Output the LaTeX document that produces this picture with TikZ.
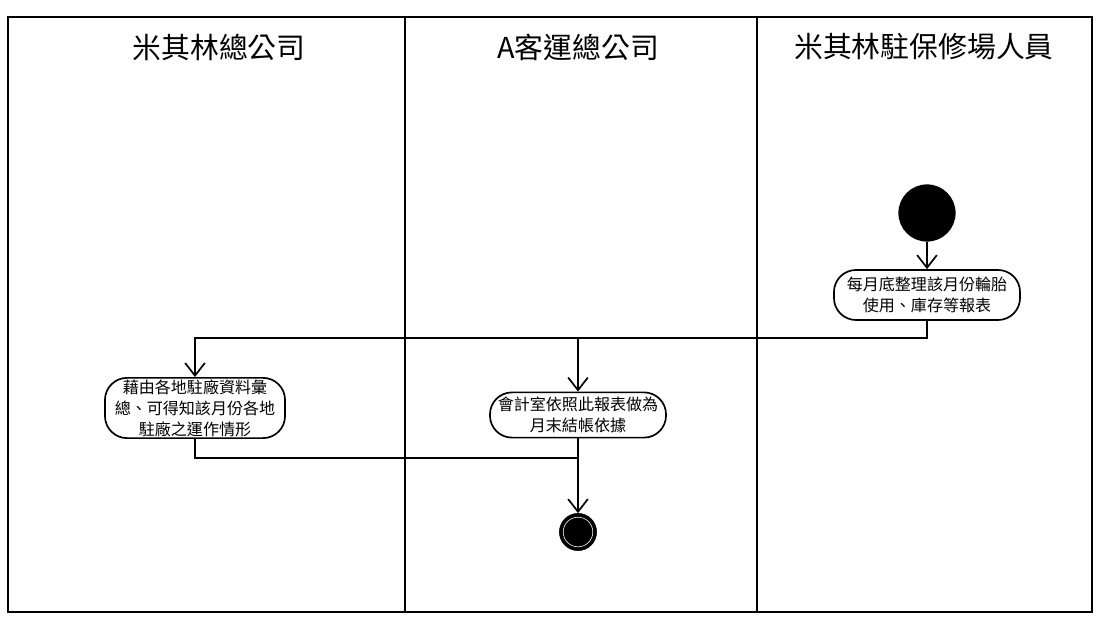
\documentclass[tikz,border=0pt]{standalone}
\usepackage{fontspec}
\setmainfont{Noto Sans CJK TC}
\usetikzlibrary{arrows.meta,positioning}

\begin{document}
\begin{tikzpicture}[x=0.025cm, y=-0.025cm,
  lanetitle/.style={font=\fontsize{20.5}{24}\selectfont},
  act/.style={draw, line width=1.2pt, rounded corners=0.55cm, minimum width=4.5cm, minimum height=1.2cm, inner sep=1pt, align=center, font=\fontsize{11.4}{15}\selectfont, fill=white},
  startnode/.style={circle, fill=black, minimum size=1.43cm, inner sep=0pt},
  endnode/.style={circle, draw, fill=black, minimum size=0.93cm, inner sep=0pt},
  arr/.style={-{Straight Barb[length=9pt, width=14pt, line width=1.2pt]}, line width=1.2pt},
  lane/.style={line width=1.3pt},
]
  \useasboundingbox (0,0) rectangle (1101,619);

  % Swimlanes
  \draw[lane] (8,17) rectangle (1092,612);
  \draw[lane] (405,17) -- (405,612);
  \draw[lane] (757,17) -- (757,612);
  \node[lanetitle] (t1) at (219,47) {米其林總公司};
  \node[lanetitle] (t2) at (578,47) {A客運總公司};
  \node[lanetitle] (t3) at (924,47) {米其林駐保修場人員};

  % Nodes
  \node[startnode] (start) at (927,213) {};
  \node[act, minimum width=4.65cm, minimum height=1.25cm] (report) at (927,295) {每月底整理該月份輪胎\\使用、庫存等報表};
  \node[act, minimum width=4.5cm, minimum height=1.5cm] (collect) at (195,408) {藉由各地駐廠資料彙\\總、可得知該月份各地\\駐廠之運作情形};
  \node[act, minimum width=4.4cm, minimum height=1.13cm] (account) at (578,415) {會計室依照此報表做為\\月末結帳依據};
  \node[endnode] (end) at (578,532) {};
  \draw[white, line width=0.4pt] (end) circle (0.37cm);

  \coordinate (fork) at (927,338);
  \coordinate (join) at (578,458);

  % Edges
  \draw[arr] (start) -- (report);
  \draw[arr] (report.south) -- (fork) -| (collect.north);
  \draw[arr] (account.north |- fork) -- (account.north);
  \draw[line width=1.2pt] (collect.south) |- (join);
  \draw[arr] (account.south) -- (end);
\end{tikzpicture}
\end{document}
